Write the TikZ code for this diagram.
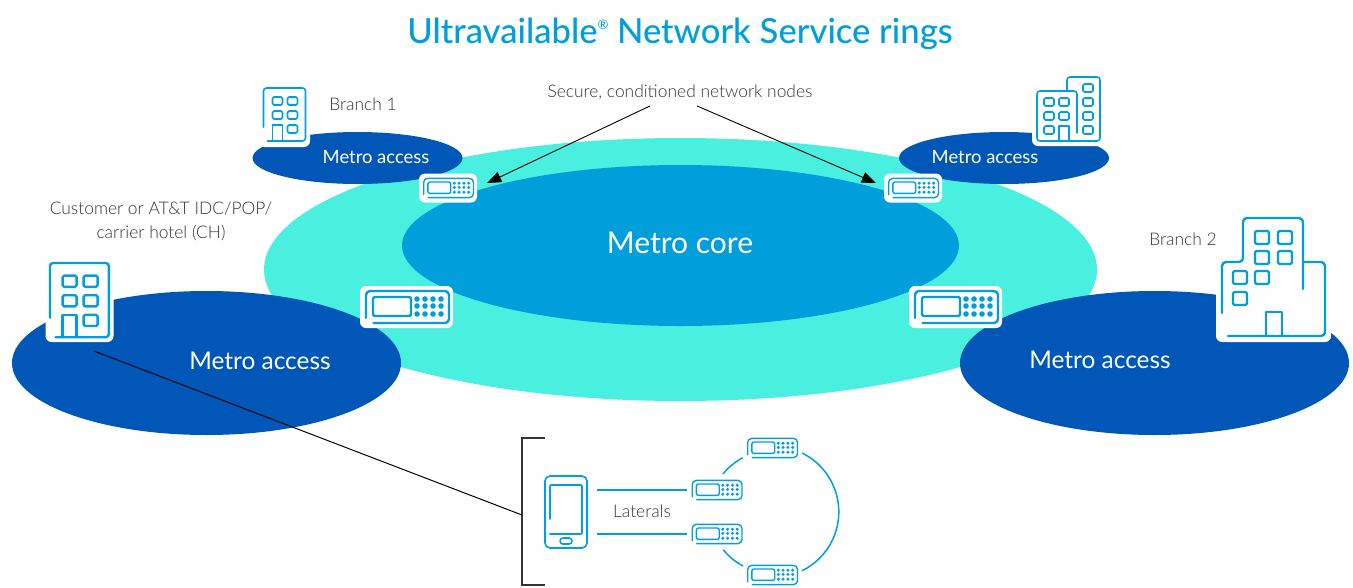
\documentclass[tikz,border=0pt]{standalone}
\usepackage{fontspec}
\setmainfont{Lato}
\newfontfamily\labelfont{Lato Light}
\newfontfamily\headfont{Lato Medium}
\usetikzlibrary{shapes.geometric,arrows.meta}
\definecolor{attblue}{HTML}{009FDB}
\definecolor{attnavy}{HTML}{0057B8}
\definecolor{attteal}{HTML}{49F0DF}
\definecolor{labelgrey}{HTML}{333333}
\tikzset{
  blob/.style={shape=ellipse,inner sep=0pt,draw=none},
  smalltext/.style={text=labelgrey,align=center,font=\labelfont\fontsize{17.4}{24}\selectfont},
  whitesmall/.style={text=white,font=\fontsize{18.4}{20}\selectfont},
  whitebig/.style={text=white,font=\fontsize{24.4}{26}\selectfont},
  backing/.style={shape=rectangle,fill=white,rounded corners=6pt,inner sep=0pt},
  devbig/.style={backing,minimum width=93pt,minimum height=42pt},
  devsmall/.style={backing,minimum width=58pt,minimum height=29pt},
  icon/.style={draw=attblue,line cap=round,line join=round},
  callout/.style={draw=black,line width=0.9pt,-{Triangle[length=14pt,width=11pt]}},
  lateral/.style={draw=attblue,line width=1.5pt},
  pane/.style={icon,rounded corners=1.5pt},
  device/.pic={
    \draw[icon,rounded corners=4pt] (-33,16) -- (42.5,16) -- (42.5,-16) -- (-40.5,-16) -- (-40.5,11);
    \draw[icon,rounded corners=2pt] (-33.5,-10) rectangle (4.5,9);
    \foreach \col in {10.5,18.5,26.5,34.5}
      \foreach \row in {-8,-1,7}
        \fill[attblue] (\col,\row) circle[radius=2.8];
  },
  office/.pic={
    \draw[icon,rounded corners=3pt] (0,39) -- (0,0) -- (42,0) -- (42,53) -- (4,53);
    \foreach \col in {9,24}
      \foreach \row in {9,23}
        \draw[pane] (\col,\row) rectangle ++(10,8);
    \draw[pane] (24,37) rectangle ++(10,8);
    \draw[icon] (9,53) -- (9,37) -- (19,37) -- (19,53);
  },
}
\begin{document}
\begin{tikzpicture}[x=1pt,y=-1pt]
\useasboundingbox (0,0) rectangle (1353,587);

\node[blob,fill=attteal,minimum width=833pt,minimum height=263pt] (ring) at (680.5,269.5) {};
\node[blob,fill=attblue,minimum width=557pt,minimum height=161pt] (core) at (680.5,245.5) {};
\node[blob,fill=attnavy,minimum width=210pt,minimum height=52pt] (accesstl) at (357.5,158) {};
\node[blob,fill=attnavy,minimum width=210pt,minimum height=52pt] (accesstr) at (1004,158) {};
\node[blob,fill=attnavy,minimum width=389pt,minimum height=144pt] (accessl) at (206.5,363) {};
\node[blob,fill=attnavy,minimum width=389pt,minimum height=144pt] (accessr) at (1154.5,363) {};

\node[text=attblue,font=\headfont\fontsize{34.6}{40}\selectfont] (title) at (680,34) {Ultravailable\raisebox{14pt}{\fontsize{13}{13}\selectfont ®} Network Service rings};
\node[text=white,font=\fontsize{30}{32}\selectfont] (corelabel) at (680,243) {Metro core};
\node[whitesmall] (labeltl) at (376,157) {Metro access};
\node[whitesmall] (labeltr) at (985,157) {Metro access};
\node[whitebig] (labell) at (260,361) {Metro access};
\node[whitebig] (labelr) at (1100,360) {Metro access};
\node[smalltext] (branch1) at (363,104) {Branch 1};
\node[smalltext] (branch2) at (1183,239) {Branch 2};
\node[smalltext] (secure) at (680,92) {Secure, conditioned network nodes};
\node[smalltext] (customer) at (161,221) {Customer or AT\&T IDC/POP/\\carrier hotel (CH)};
\node[smalltext] (laterals) at (642,511) {Laterals};

% building icons
\node[backing,minimum width=52pt,minimum height=64pt] (officetl) at (284,115) {};
\pic[line width=1.6pt] at (263.5,88) {office};
\node[backing,minimum width=68pt,minimum height=84pt] (officel) at (79.5,300) {};
\pic[line width=2.4pt,scale=1.4] at (50,263) {office};
\node[backing,minimum width=73pt,minimum height=74pt] (officetr) at (1068.5,109) {};
\draw[icon,line width=1.6pt,rounded corners=3pt] (1077,133) -- (1077,91) -- (1037,91) -- (1037,141) -- (1100,141) -- (1100,77) -- (1067,77) -- (1067,91);
\foreach \col in {1044,1059}
  \foreach \row in {98,112}
    \draw[pane,line width=1.6pt] (\col,\row) rectangle ++(10,8);
\draw[pane,line width=1.6pt] (1044,126) rectangle ++(10,8);
\foreach \row in {84,98,112,126}
  \draw[pane,line width=1.6pt] (1083,\row) rectangle ++(10,8);
\draw[icon,line width=1.6pt] (1059,141) -- (1059,126) -- (1069,126) -- (1069,141);
\node[backing,minimum width=115pt,minimum height=130pt] (officer) at (1273.5,277) {};
\draw[icon,line width=2.4pt,rounded corners=4pt] (1222,313) -- (1222,262) -- (1243,262) -- (1243,218) -- (1303,218) -- (1303,289);
\draw[icon,line width=2.4pt,rounded corners=4pt] (1303,262) -- (1325,262) -- (1325,336) -- (1228,336);
\foreach \col/\row in {1255/231,1278/231,1255/251,1278/251,1233/271,1255/271,1233/292}
  \draw[pane,line width=2.4pt] (\col,\row) rectangle ++(14,13);
\draw[icon,line width=2.4pt] (1266,336) -- (1266,312) -- (1282,312) -- (1282,336);

% network devices
\node[devsmall] (devtl) at (448,188) {};
\node[devsmall] (devtr) at (913,188) {};
\node[devbig] (devl) at (406.5,307) {};
\node[devbig] (devr) at (955.5,307) {};
\node[devsmall] (lat1) at (772,448) {};
\node[devsmall] (lat2) at (716.5,490) {};
\node[devsmall] (lat3) at (716.5,534) {};
\node[devsmall] (lat4) at (772,575) {};
\pic[line width=1.4pt,scale=0.6] at (devtl) {device};
\pic[line width=1.4pt,scale=0.6] at (devtr) {device};
\pic[line width=2.4pt] at (devl) {device};
\pic[line width=2.4pt] at (devr) {device};
\pic[line width=1.4pt,scale=0.6] at (lat1) {device};
\pic[line width=1.4pt,scale=0.6] at (lat2) {device};
\pic[line width=1.4pt,scale=0.6] at (lat3) {device};
\pic[line width=1.4pt,scale=0.6] at (lat4) {device};

% phone and bracket
\node[shape=rectangle,inner sep=0pt,minimum width=52pt,minimum height=72pt] (phone) at (571,512) {};
\draw[icon,line width=1.6pt,rounded corners=5pt] (545,476) rectangle (587,548);
\draw[icon,line width=1.6pt,rounded corners=1pt] (550,519) -- (550,485) -- (582,485) -- (582,534) -- (550,534);
\draw[icon,line width=1.6pt,rounded corners=3pt] (560,538) rectangle (572,544);
\coordinate (brackettop) at (545,438);
\coordinate (bracketbot) at (545,585);
\coordinate (bracketmid) at (522,515);
\coordinate (customerpin) at (94,351);
\draw[labelgrey,line width=1.2pt] (brackettop) -- (522,438) -- (522,585) -- (bracketbot);
\draw[black,line width=1pt] (customerpin) -- (bracketmid);

% connectors
\draw[callout] ([xshift=-30pt,yshift=-3pt]secure.south) -- ([xshift=10pt,yshift=5pt]devtl.east);
\draw[callout] ([xshift=17pt,yshift=-3pt]secure.south) -- ([xshift=-8pt,yshift=5pt]devtr.west);
\draw[lateral] (lat2.west -| phone.east) -- (lat2.west);
\draw[lateral] (lat3.west -| phone.east) -- (lat3.west);
\coordinate (arcstart) at (802,453);
\coordinate (arctl) at (723,474);
\coordinate (arcbl) at (743,566);
\draw[lateral] (arcstart) arc[start angle=-64,end angle=64,radius=65.5];
\draw[lateral] (arctl) arc[start angle=-141,end angle=-118,radius=64];
\draw[lateral] (arcbl) arc[start angle=118,end angle=141,radius=64];
\end{tikzpicture}
\end{document}
